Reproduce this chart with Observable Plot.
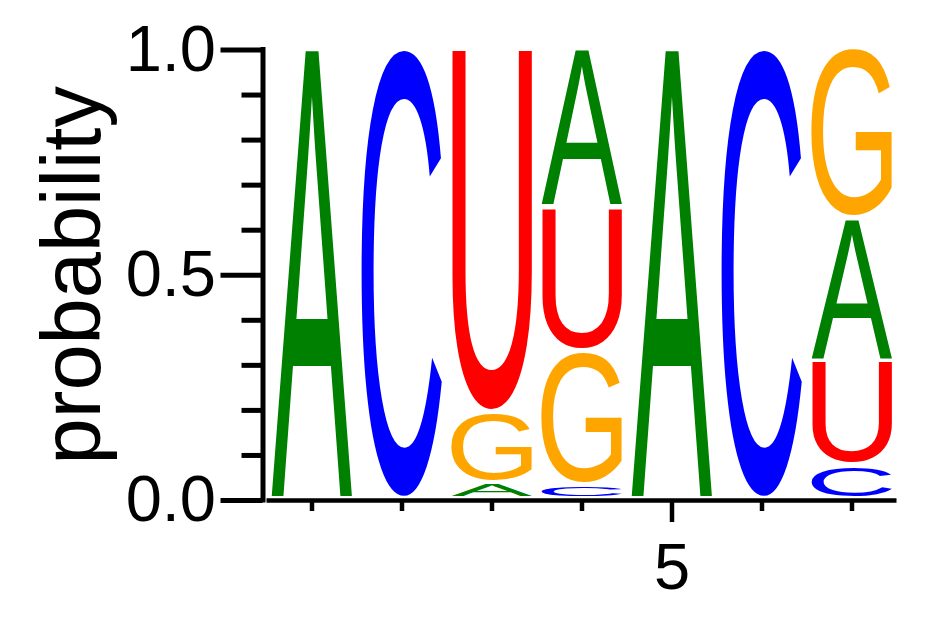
<!DOCTYPE html>
<html>
<head>
<meta charset="utf-8">
<script src="https://cdn.jsdelivr.net/npm/d3@7"></script>
<script src="https://cdn.jsdelivr.net/npm/@observablehq/plot@0.6"></script>
<style>
  html, body { margin: 0; padding: 0; background: #fff; }
</style>
</head>
<body>
<div id="chart"></div>
<script>
// ---- data ----
const positions = [1, 2, 3, 4, 5, 6, 7];
const letters = ["A", "C", "G", "U"];
const probA = [1.0, 0.0, 0.036, 0.352, 1.0, 0.0, 0.316];
const probC = [0.0, 1.0, 0.0, 0.031, 0.0, 1.0, 0.075];
const probG = [0.0, 0.0, 0.157, 0.298, 0.0, 0.0, 0.378];
const probU = [0.0, 0.0, 0.807, 0.319, 0.0, 0.0, 0.231];
const yMajorTicks = [0, 0.5, 1];
const yMinorTicks = [0.1, 0.2, 0.3, 0.4, 0.6, 0.7, 0.8, 0.9];
const xTicks = [1, 2, 3, 4, 6, 7];
const xLabelTicks = [5];
const yLabel = "probability";

const letterColors = ["#008000", "#0000ff", "#ffa500", "#ff0000"];
const probs = {A: probA, C: probC, G: probG, U: probU};

// stacked table: smallest at bottom
const rows = [];
positions.forEach((pos, i) => {
  const entries = letters.map(l => ({letter: l, p: probs[l][i]})).filter(e => e.p > 0);
  entries.sort((a, b) => a.p - b.p);
  let acc = 0;
  for (const e of entries) {
    rows.push({pos, letter: e.letter, y0: acc, y1: acc + e.p});
    acc += e.p;
  }
});

const FONT = "Liberation Sans";

const chart = Plot.plot({
  width: 942,
  height: 617,
  marginLeft: 266.5,
  marginRight: 45.5,
  marginTop: 49.5,
  marginBottom: 117,
  style: {fontFamily: FONT + ", Arial, sans-serif", background: "white", color: "black"},
  x: {domain: [0.5, 7.5]},
  y: {domain: [0, 1]},
  color: {domain: letters, range: letterColors},
  marks: [
    Plot.text(rows, {x: "pos", y: d => (d.y0 + d.y1) / 2, text: "letter", fill: "letter", fontSize: 100}),
    Plot.ruleY([0], {strokeWidth: 4.5}),
    Plot.ruleX([0.5], {dx: -4, strokeWidth: 5, strokeLinecap: "square"}),
    Plot.axisY({ticks: yMajorTicks, tickSize: 42, tickPadding: 5, dx: -4, strokeWidth: 5, fontSize: 65, tickFormat: d3.format(".1f"), label: null}),
    Plot.axisY({ticks: yMinorTicks, tickSize: 21, dx: -4, strokeWidth: 5, tickFormat: () => "", label: null}),
    Plot.axisX({ticks: xTicks, tickSize: 11, strokeWidth: 4.5, tickFormat: () => "", label: null}),
    Plot.axisX({ticks: xLabelTicks, tickSize: 22, strokeWidth: 4.5, tickPadding: 20, fontSize: 65, tickFormat: d3.format("d"), label: null}),
    Plot.text([yLabel], {text: d => d, frameAnchor: "left", textAnchor: "middle", lineAnchor: "middle", rotate: -90, dx: -193.5, fontSize: 83})
  ]
});
document.getElementById("chart").appendChild(chart);

// stretch each letter glyph to fill its stack slot, using the plot's scales
const xs = chart.scale("x"), ys = chart.scale("y");
const fx = xs.apply ? xs.apply : d3.scaleLinear(xs.domain, xs.range);
const fy = ys.apply ? ys.apply : d3.scaleLinear(ys.domain, ys.range);
const ctx = document.createElement("canvas").getContext("2d");
ctx.font = "100px '" + FONT + "'";
const metrics = {};
for (const l of letters) {
  const m = ctx.measureText(l);
  metrics[l] = {L: m.actualBoundingBoxLeft, R: m.actualBoundingBoxRight, A: m.actualBoundingBoxAscent, D: m.actualBoundingBoxDescent};
}
const halfWidth = 0.45, gap = 4.5;
const letterGroup = chart.querySelectorAll('g[aria-label="text"]')[0];
const texts = letterGroup.querySelectorAll("text");
texts.forEach((t, i) => {
  const r = rows[i];
  const m = metrics[r.letter];
  const X0 = fx(r.pos - halfWidth), X1 = fx(r.pos + halfWidth);
  const Yt = fy(r.y1), Yb = fy(r.y0) - gap;
  const sx = (X1 - X0) / (m.L + m.R);
  const sy = Math.max(0.0001, (Yb - Yt)) / (m.A + m.D);
  t.removeAttribute("dx");
  t.removeAttribute("dy");
  t.setAttribute("x", 0);
  t.setAttribute("y", 0);
  t.setAttribute("text-anchor", "start");
  t.setAttribute("font-family", FONT);
  t.setAttribute("font-size", "100");
  t.setAttribute("transform", `translate(${X0},${Yt}) scale(${sx},${sy}) translate(${m.L},${m.A})`);
});
</script>
</body>
</html>
